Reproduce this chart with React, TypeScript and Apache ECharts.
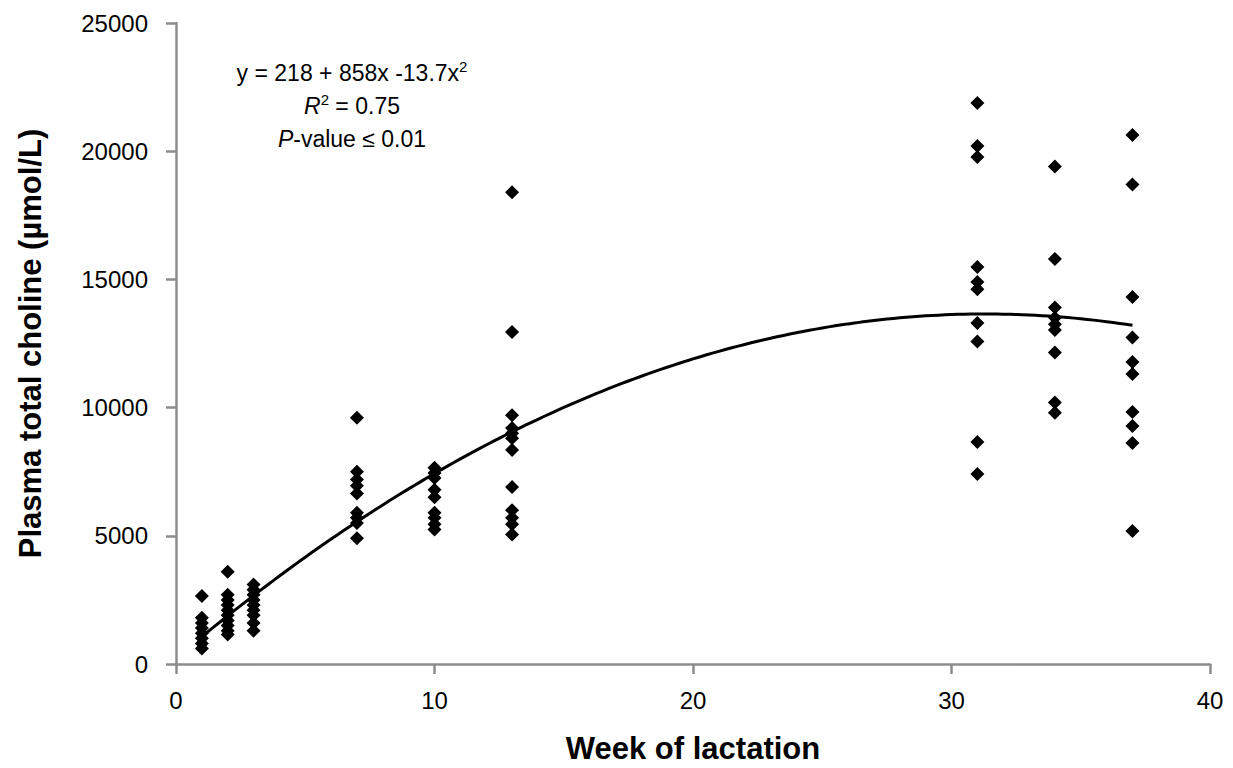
import React, { useEffect, useRef } from "react";
import * as echarts from "echarts";

const weeks = [1, 2, 3, 7, 10, 13, 31, 34, 37];
const week1 = [2650, 1800, 1600, 1400, 1200, 1000, 800, 600];
const week2 = [3600, 2700, 2500, 2300, 2100, 1900, 1700, 1500, 1300, 1150];
const week3 = [3100, 2900, 2700, 2500, 2300, 2100, 1900, 1600, 1300];
const week7 = [9600, 7500, 7200, 6950, 6650, 5900, 5700, 5500, 4900];
const week10 = [7650, 7450, 7250, 6800, 6500, 5900, 5700, 5450, 5250];
const week13 = [18400, 12950, 9700, 9200, 9000, 8800, 8350, 6900, 6000, 5700, 5450, 5050];
const week31 = [21880, 20200, 19770, 15480, 14900, 14620, 13300, 12580, 8660, 7410];
const week34 = [19400, 15800, 13900, 13500, 13250, 13030, 12150, 10200, 9800];
const week37 = [20630, 18700, 14310, 12730, 11780, 11310, 9830, 9280, 8620, 5190];
const valuesByWeek = [week1, week2, week3, week7, week10, week13, week31, week34, week37];

// quadratic fit coefficients as stated on the chart: y = 218 + 858x - 13.7x^2
const fitCoefficients = [218, 858, -13.7];
const fitRange = [1, 37];

const xTicks = [0, 10, 20, 30, 40];
const yTicks = [0, 5000, 10000, 15000, 20000, 25000];

export default function App() {
  const ref = useRef<HTMLDivElement>(null);
  useEffect(() => {
    if (!ref.current) return;
    const chart = echarts.init(ref.current, null, { renderer: "svg" });
    const scatter: number[][] = [];
    weeks.forEach((w, i) => valuesByWeek[i].forEach((v) => scatter.push([w, v])));
    const fit: number[][] = [];
    for (let x = fitRange[0]; x <= fitRange[1] + 1e-9; x += 0.25) {
      fit.push([x, fitCoefficients[0] + fitCoefficients[1] * x + fitCoefficients[2] * x * x]);
    }
    const axisColor = "#8c8c8c";
    const font = "'Liberation Sans', Arial, sans-serif";
    chart.setOption({
      animation: false,
      backgroundColor: "#ffffff",
      grid: { left: 176, right: 23, top: 23, bottom: 104, containLabel: false, outerBoundsMode: "none" },
      xAxis: {
        type: "value",
        min: xTicks[0],
        max: xTicks[xTicks.length - 1],
        interval: 10,
        name: "Week of lactation",
        nameLocation: "middle",
        nameGap: 69,
        nameTextStyle: { fontFamily: font, fontSize: 31, fontWeight: "bold", color: "#000" },
        axisLine: { show: true, onZero: false, lineStyle: { color: axisColor, width: 2.5 } },
        axisTick: { show: true, inside: false, length: 10, lineStyle: { color: axisColor, width: 2.5 } },
        axisLabel: { margin: 24, fontFamily: font, fontSize: 24, color: "#000", formatter: (v: number) => String(v) },
        splitLine: { show: false },
      },
      yAxis: {
        type: "value",
        min: yTicks[0],
        max: yTicks[yTicks.length - 1],
        interval: 5000,
        name: "Plasma total choline (µmol/L)",
        nameLocation: "middle",
        nameGap: 130,
        nameTextStyle: { fontFamily: font, fontSize: 31, fontWeight: "bold", color: "#000" },
        axisLine: { show: true, onZero: false, lineStyle: { color: axisColor, width: 2.5 } },
        axisTick: { show: true, inside: false, length: 10, lineStyle: { color: axisColor, width: 2.5 } },
        axisLabel: { margin: 28, fontFamily: font, fontSize: 24, color: "#000", formatter: (v: number) => String(v) },
        splitLine: { show: false },
      },
      series: [
        {
          type: "line",
          data: fit,
          showSymbol: false,
          symbol: "none",
          smooth: false,
          lineStyle: { color: "#000", width: 3 },
          z: 2,
        },
        {
          type: "scatter",
          data: scatter,
          symbol: "diamond",
          symbolSize: 14,
          itemStyle: { color: "#000", opacity: 1 },
          z: 3,
        },
      ],
      graphic: [
        {
          type: "text",
          x: 352,
          y: 73,
          style: {
            text: "{a|y = 218 + 858x -13.7x}{s|2}",
            align: "center",
            verticalAlign: "middle",
            fill: "#000",
            rich: {
              a: { fontFamily: font, fontSize: 23, fill: "#000", lineHeight: 28 },
              s: { fontFamily: font, fontSize: 15, fill: "#000", verticalAlign: "top", lineHeight: 28, padding: [0, 0, 10, 0] },
            },
          },
        },
        {
          type: "text",
          x: 352,
          y: 106,
          style: {
            text: "{i|R}{s|2}{a| = 0.75}",
            align: "center",
            verticalAlign: "middle",
            fill: "#000",
            rich: {
              i: { fontFamily: font, fontSize: 23, fontStyle: "italic", fill: "#000", lineHeight: 28 },
              a: { fontFamily: font, fontSize: 23, fill: "#000", lineHeight: 28 },
              s: { fontFamily: font, fontSize: 15, fill: "#000", verticalAlign: "top", lineHeight: 28, padding: [0, 0, 10, 0] },
            },
          },
        },
        {
          type: "text",
          x: 352,
          y: 139,
          style: {
            text: "{i|P}{a|-value ≤ 0.01}",
            align: "center",
            verticalAlign: "middle",
            fill: "#000",
            rich: {
              i: { fontFamily: font, fontSize: 23, fontStyle: "italic", fill: "#000", lineHeight: 28 },
              a: { fontFamily: font, fontSize: 23, fill: "#000", lineHeight: 28 },
            },
          },
        },
      ],
    });
    return () => chart.dispose();
  }, []);
  return (
    <div
      ref={ref}
      style={{ position: "absolute", left: 0, top: 0, width: 1233, height: 768, background: "#fff" }}
    />
  );
}
